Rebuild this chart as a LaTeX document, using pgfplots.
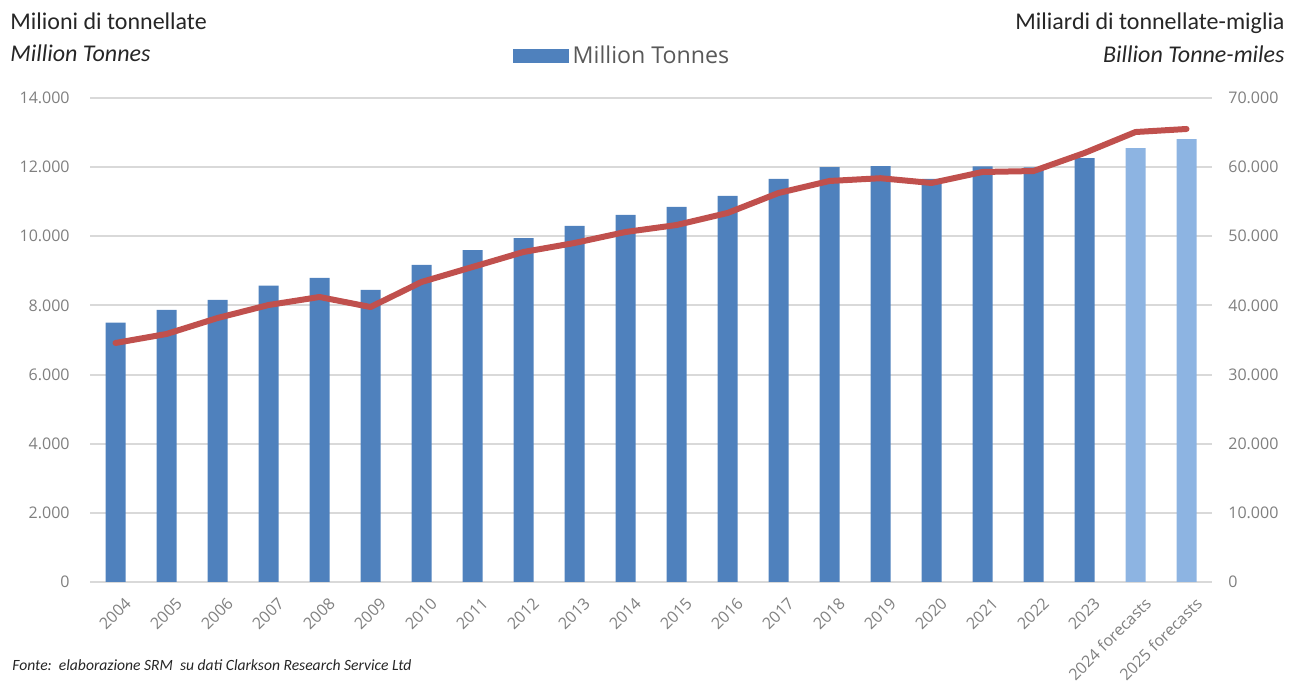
\documentclass[border=0pt]{standalone}
\usepackage{fontspec}
\setmainfont{Carlito}
\newfontfamily\osans{Open Sans}
\usepackage{pgfplots}
\pgfplotsset{compat=1.18}
\definecolor{barblue}{HTML}{4F81BD}
\definecolor{barlight}{HTML}{8DB4E2}
\definecolor{linered}{HTML}{C0504D}
\definecolor{gridgray}{HTML}{D9D9D9}
\definecolor{tickgray}{HTML}{7F7F7F}
\definecolor{legendgray}{HTML}{595959}
\definecolor{titleblack}{HTML}{262626}
\pgfplotsset{
  common/.style={
    at={(45pt,52pt)}, anchor=south west, scale only axis,
    width=561pt, height=242pt,
    xmin=-0.5, xmax=21.5,
    axis line style={draw=none}, tick style={draw=none}, major tick length=0pt,
    scaled y ticks=false,
    /pgf/number format/1000 sep={.},
    /pgf/number format/assume math mode=true,
    yticklabel style={font=\osans\fontsize{8}{9}\selectfont, text=tickgray, inner sep=0pt},
  }
}
\begin{document}
\begin{tikzpicture}
\useasboundingbox (0,0) rectangle (645.5pt,343pt);
\begin{axis}[common,
  ymin=0, ymax=14000, ytick={0,2000,...,14000},
  ymajorgrids, grid style={gridgray, line width=1pt},
  yticklabel style={anchor=east, xshift=-10pt},
  xtick={0,...,21},
  xticklabels={2004,2005,2006,2007,2008,2009,2010,2011,2012,2013,2014,2015,2016,2017,2018,2019,2020,2021,2022,2023,2024 forecasts,2025 forecasts},
  xticklabel style={rotate=45, anchor=east, inner sep=0pt, yshift=-11pt, xshift=-2pt, font=\osans\fontsize{8}{9}\selectfont, text=tickgray},
  legend style={at={(0.475,1.087)}, anchor=center, draw=none, fill=none,
    font=\osans\fontsize{11.6}{13}\selectfont, text=legendgray, inner sep=0pt},
  legend image code/.code={\fill[#1,/tikz/.cd] (0pt,-3.5pt) rectangle (28pt,3.5pt);},
]
\addplot[ybar, bar width=10pt, bar shift=0pt, fill=barblue, draw=none] coordinates {
(0,7500) (1,7870) (2,8160) (3,8570) (4,8800) (5,8450) (6,9170) (7,9600) (8,9950) (9,10300)
(10,10620) (11,10850) (12,11170) (13,11660) (14,12000) (15,12030) (16,11660) (17,12020) (18,11990) (19,12260)};
\addlegendentry{Million Tonnes}
\addplot[ybar, bar width=10pt, bar shift=0pt, fill=barlight, draw=none, forget plot] coordinates {
(20,12550) (21,12810)};
\end{axis}
\begin{axis}[common,
  ymin=0, ymax=70000, ytick={0,10000,...,70000},
  yticklabel pos=right,
  yticklabel style={anchor=west, xshift=8pt},
  xtick=\empty,
]
\addplot[linered, line width=3pt, line join=round, line cap=round] coordinates {
(0,34570) (1,35870) (2,38180) (3,40060) (4,41220) (5,39770) (6,43390) (7,45560) (8,47730) (9,49030)
(10,50620) (11,51630) (12,53370) (13,56260) (14,58000) (15,58400) (16,57710) (17,59300) (18,59440) (19,62050)
(20,65080) (21,65520)};
\end{axis}
\node[anchor=base west, inner sep=0pt, text=titleblack, font=\fontsize{12}{14}\selectfont] at (5pt,328pt) {Milioni di tonnellate};
\node[anchor=base west, inner sep=0pt, text=titleblack, font=\itshape\fontsize{12}{14}\selectfont] at (5pt,312pt) {Million Tonnes};
\node[anchor=base east, inner sep=0pt, text=titleblack, font=\fontsize{12}{14}\selectfont] at (642.5pt,328pt) {Miliardi di tonnellate-miglia};
\node[anchor=base east, inner sep=0pt, text=titleblack, font=\itshape\fontsize{12}{14}\selectfont] at (642.5pt,311.5pt) {Billion Tonne-miles};
\node[anchor=base west, inner sep=0pt, text=titleblack, font=\itshape\fontsize{7.8}{9}\selectfont] at (6pt,8pt) {Fonte:\ \ elaborazione SRM\ \ su dati Clarkson Research Service Ltd};
\end{tikzpicture}
\end{document}
